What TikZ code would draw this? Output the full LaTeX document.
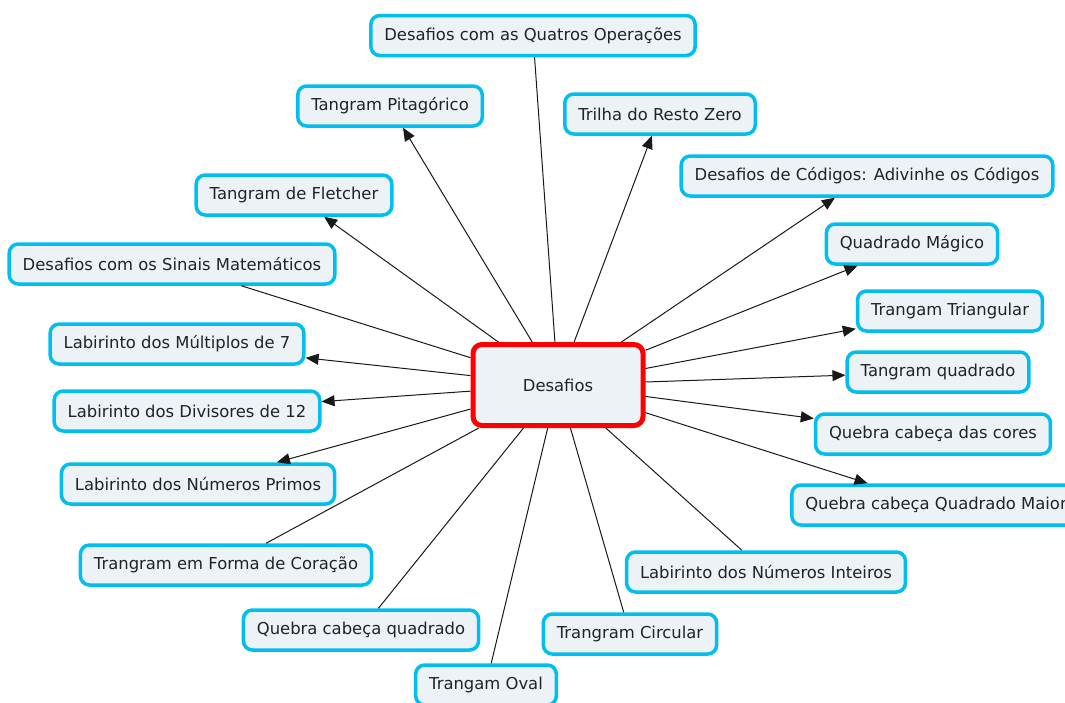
\documentclass[tikz,border=0pt]{standalone}
\usepackage{fontspec}
\setmainfont{DejaVu Sans}
\usetikzlibrary{arrows.meta}
\definecolor{borda}{RGB}{0,190,240}
\definecolor{fundo}{RGB}{236,242,245}
\definecolor{texto}{RGB}{35,35,35}
\begin{document}
\begin{tikzpicture}[x=1pt, y=-1pt,
  caixa/.style={draw=borda, fill=fundo, line width=3.5pt, rounded corners=9pt,
    minimum height=40pt, inner xsep=13.5pt, text=texto, font=\fontsize{16.4}{18}\selectfont},
  centro/.style={caixa, draw=red, line width=5pt, minimum width=170pt, minimum height=81pt},
  liga/.style={draw=black!90, line width=1pt},
  seta/.style={liga, -{Triangle[length=13pt,width=11pt]}}]
  \useasboundingbox (0,0) rectangle (1065,702);
  \clip (0,0) rectangle (1065,702);

  % Central concept
  \node[centro] (desafios) at (558,385) {Desafios};

  % Upper half
  \node[caixa] (quatro) at (533,35.5) {Desafios com as Quatros Operações};
  \node[caixa] (pitagorico) at (390,106) {Tangram Pitagórico};
  \node[caixa] (resto) at (660,114) {Trilha do Resto Zero};
  \node[caixa] (fletcher) at (294,195) {Tangram de Fletcher};
  \node[caixa] (codigos) at (867,176) {Desafios de Códigos: Adivinhe os Códigos};
  \node[caixa] (sinais) at (172,264) {Desafios com os Sinais Matemáticos};
  \node[caixa] (magico) at (912,244) {Quadrado Mágico};
  \node[caixa] (triangular) at (950,311) {Trangam Triangular};
  \node[caixa] (multiplos) at (177,344) {Labirinto dos Múltiplos de 7};
  \node[caixa] (tquadrado) at (938,372) {Tangram quadrado};

  % Lower half
  \node[caixa] (divisores) at (187,411) {Labirinto dos Divisores de 12};
  \node[caixa] (cores) at (933,434) {Quebra cabeça das cores};
  \node[caixa] (primos) at (198,484) {Labirinto dos Números Primos};
  \node[caixa] (maior) at (936,505) {Quebra cabeça Quadrado Maior};
  \node[caixa] (coracao) at (226,565) {Trangram em Forma de Coração};
  \node[caixa] (inteiros) at (766,572) {Labirinto dos Números Inteiros};
  \node[caixa] (qquadrado) at (361,630) {Quebra cabeça quadrado};
  \node[caixa] (circular) at (630,634) {Trangram Circular};
  \node[caixa] (oval) at (486,685) {Trangam Oval};

  % Plain links
  \draw[liga] (desafios) -- (quatro);
  \draw[liga] (desafios) -- (sinais);
  \draw[liga] (desafios) -- (coracao);
  \draw[liga] (desafios) -- (qquadrado);
  \draw[liga] (desafios) -- (oval);
  \draw[liga] (desafios) -- (circular);
  \draw[liga] (desafios) -- (inteiros);

  % Arrows
  \draw[seta] (desafios) -- (pitagorico);
  \draw[seta] (desafios) -- (resto);
  \draw[seta] (desafios) -- (fletcher);
  \draw[seta] (desafios) -- (codigos);
  \draw[seta] (desafios) -- (magico);
  \draw[seta] (desafios) -- (triangular);
  \draw[seta] (desafios) -- (multiplos);
  \draw[seta] (desafios) -- (tquadrado);
  \draw[seta] (desafios) -- (divisores);
  \draw[seta] (desafios) -- (cores);
  \draw[seta] (desafios) -- (primos);
  \draw[seta] (desafios) -- (maior);
\end{tikzpicture}
\end{document}
